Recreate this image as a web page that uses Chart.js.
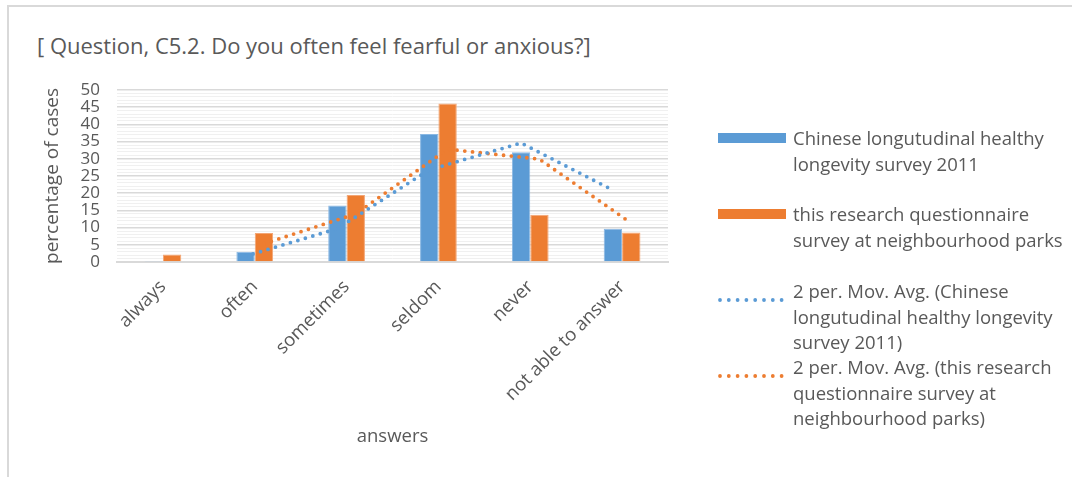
<!DOCTYPE html>
<html>
<head>
<meta charset="utf-8">
<script src="https://cdn.jsdelivr.net/npm/chart.js@4"></script>
<style>
  html, body { margin: 0; padding: 0; background: #fff; }
  body { width: 1072px; height: 477px; position: relative; overflow: hidden;
         font-family: "Open Sans", sans-serif; color: #595959; }
  #frame { position: absolute; left: 7px; top: 5px; width: 1100px; height: 520px;
           border: 2px solid #d9d9d9; box-sizing: border-box; }
  #title { position: absolute; left: 37px; top: 30px; font-size: 22px; white-space: nowrap; }
  #chart { position: absolute; left: 0; top: 0; }
  .entry { position: absolute; left: 793px; font-size: 18.5px; line-height: 25.7px; white-space: nowrap; }
  .swatch { position: absolute; left: 718px; }
</style>
</head>
<body>
<div id="frame"></div>
<div id="title">[ Question, C5.2. Do you often feel fearful or anxious?]</div>
<canvas id="chart" width="1072" height="477"></canvas>
<div id="legend"></div>
<script>
// categories and values
const categories = ['always', 'often', 'sometimes', 'seldom', 'never', 'not able to answer'];
const clhls2011 = [0.3, 3.0, 16.4, 37.2, 31.9, 9.7];
const parkSurvey = [2.2, 8.4, 19.5, 46.1, 13.7, 8.6];
// 2 period moving average trendlines (first category has no value)
const clhlsMovAvg = [null, 1.7, 9.7, 26.8, 34.6, 20.9];
const parkMovAvg = [null, 5.3, 14.0, 32.8, 29.9, 11.3];
const yMax = 50;
const yLabelStep = 5;

const seriesNames = [
  ['Chinese longutudinal healthy', 'longevity survey 2011'],
  ['this research questionnaire', 'survey at neighbourhood parks'],
  ['2 per. Mov. Avg. (Chinese', 'longutudinal healthy longevity', 'survey 2011)'],
  ['2 per. Mov. Avg. (this research', 'questionnaire survey at', 'neighbourhood parks)']
];

const BLUE = '#5B9BD5';
const ORANGE = '#ED7D31';
const TEXT = '#595959';

// Excel puts each series' trendline on its own bar centre, not the category centre
const barShift = 0.1;
function toPoints(values, shift) {
  const pts = [];
  values.forEach((v, i) => { if (v !== null) pts.push({ x: i + shift, y: v }); });
  return pts;
}

const font = size => ({ family: '"Open Sans", sans-serif', size });

new Chart(document.getElementById('chart'), {
  type: 'bar',
  data: {
    labels: categories,
    datasets: [
      {
        type: 'line', label: seriesNames[2].join(' '), data: toPoints(clhlsMovAvg, -barShift),
        xAxisID: 'xLine', borderColor: BLUE, borderWidth: 3.8, borderDash: [0, 7.8],
        borderCapStyle: 'round', pointRadius: 0, fill: false, tension: 0, order: 0
      },
      {
        type: 'line', label: seriesNames[3].join(' '), data: toPoints(parkMovAvg, barShift),
        xAxisID: 'xLine', borderColor: ORANGE, borderWidth: 3.8, borderDash: [0, 7.8],
        borderCapStyle: 'round', pointRadius: 0, fill: false, tension: 0, order: 0
      },
      {
        label: seriesNames[0].join(' '), data: clhls2011, xAxisID: 'x',
        backgroundColor: BLUE, borderColor: '#8ab8e3', borderWidth: 1,
        categoryPercentage: 0.8, barPercentage: 1.0, order: 1
      },
      {
        label: seriesNames[1].join(' '), data: parkSurvey, xAxisID: 'x',
        backgroundColor: ORANGE, borderColor: '#f3a676', borderWidth: 1,
        categoryPercentage: 0.8, barPercentage: 1.0, order: 1
      }
    ]
  },
  options: {
    responsive: false,
    animation: false,
    layout: { padding: { left: 37, right: 404, top: 90, bottom: 25 } },
    plugins: { legend: { display: false }, tooltip: { enabled: false } },
    scales: {
      x: {
        type: 'category',
        offset: true,
        grid: { display: false },
        border: { color: '#d9d9d9', width: 2 },
        ticks: { color: TEXT, font: font(18.5), maxRotation: 45, minRotation: 45, padding: 6, autoSkip: false },
        title: { display: true, text: 'answers', color: TEXT, font: font(18.5) },
        afterFit: scale => { scale.height = 190; }
      },
      xLine: {
        type: 'linear', display: false, offset: false, min: -0.5, max: categories.length - 0.5
      },
      y: {
        min: 0, max: yMax,
        border: { display: false },
        grid: {
          drawTicks: false,
          color: c => (c.tick.value % yLabelStep === 0 ? '#d9d9d9' : '#f0f0f0'),
          lineWidth: c => (c.tick.value % yLabelStep === 0 ? 1.5 : 1)
        },
        ticks: {
          stepSize: 1, autoSkip: false, color: TEXT, font: font(17), padding: 17,
          callback: v => (v % yLabelStep === 0 ? v : '')
        },
        title: { display: true, text: 'percentage of cases', color: TEXT, font: font(19) },
        afterFit: scale => { scale.width = 80; }
      }
    }
  }
});

// legend drawn as html so the labels can wrap like the original
const legendTops = [125, 201, 278, 354];
const legend = document.getElementById('legend');
seriesNames.forEach((lines, i) => {
  const div = document.createElement('div');
  div.className = 'entry';
  div.style.top = legendTops[i] + 'px';
  div.innerHTML = lines.join('<br>');
  legend.appendChild(div);

  const mid = legendTops[i] + 13;
  const color = i % 2 === 0 ? BLUE : ORANGE;
  const sw = document.createElement('div');
  sw.className = 'swatch';
  if (i < 2) {
    sw.style.cssText += `top:${mid - 5}px;width:68px;height:10px;background:${color};`;
  } else {
    sw.style.top = (mid - 4) + 'px';
    sw.innerHTML = `<svg width="68" height="8"><line x1="2" y1="4" x2="64" y2="4" stroke="${color}"
      stroke-width="3.8" stroke-linecap="round" stroke-dasharray="0 8.8"/></svg>`;
  }
  legend.appendChild(sw);
});
</script>
</body>
</html>
